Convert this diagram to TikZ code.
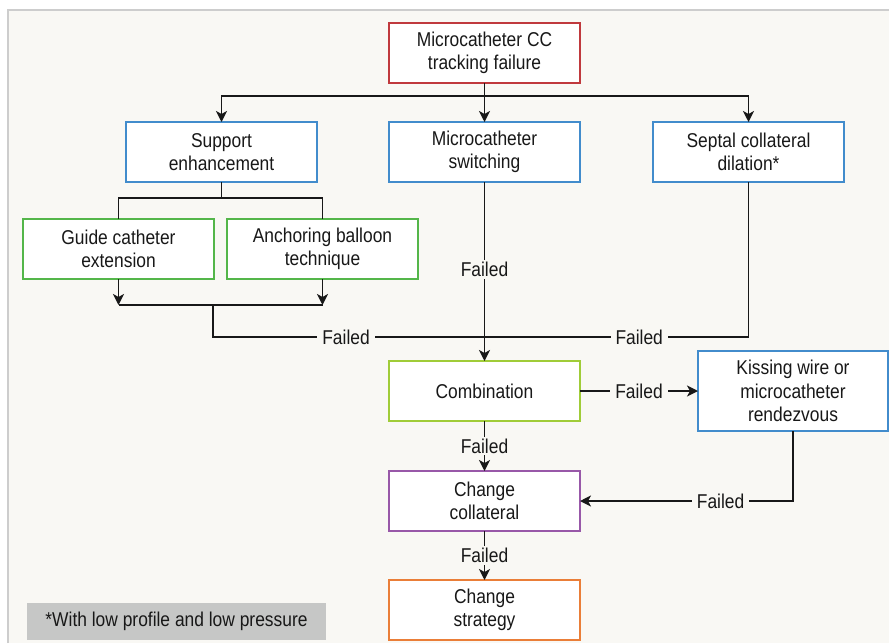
\documentclass[tikz,border=0pt]{standalone}
\usepackage{fontspec}
\setmainfont{Liberation Sans}[FakeStretch=0.87]
\usepackage{tikz}
\usetikzlibrary{arrows.meta,positioning}

\definecolor{bgcol}{RGB}{249,248,244}
\definecolor{framecol}{RGB}{205,205,205}
\definecolor{linecol}{RGB}{24,24,24}
\definecolor{redcol}{RGB}{192,57,61}
\definecolor{bluecol}{RGB}{66,140,204}
\definecolor{greencol}{RGB}{84,182,74}
\definecolor{limecol}{RGB}{160,204,56}
\definecolor{purplecol}{RGB}{152,88,168}
\definecolor{orangecol}{RGB}{234,126,56}
\definecolor{notecol}{RGB}{198,199,198}

\begin{document}
\begin{tikzpicture}[x=1pt,y=-1pt,>={Stealth[length=11pt,width=11pt,inset=3pt]},
  line width=1.6pt,
  every node/.style={font=\fontsize{20}{23.5}\selectfont,text=linecol},
  box/.style={draw,fill=white,line width=1.8pt,align=center,outer sep=0pt,
    minimum width=191pt,minimum height=60pt,inner sep=2pt},
  failed/.style={fill=bgcol,inner xsep=5pt,inner ysep=2pt}]
  \useasboundingbox (0,0) rectangle (889,643);
  \fill[bgcol] (8,10) rectangle (889,643);
  \draw[framecol,line width=2pt] (8,643) -- (8,10) -- (889,10);

  \node[box,draw=redcol] (top) at (484.5,53) {Microcatheter CC\\tracking failure};
  \node[box,draw=bluecol] (switch) [below=39pt of top] {Microcatheter\\switching};
  \node[box,draw=bluecol] (support) [left=72pt of switch] {Support\\enhancement};
  \node[box,draw=bluecol] (septal) [right=73pt of switch] {Septal collateral\\dilation*};
  \node[box,draw=greencol] (guide) at (118.5,249) {Guide catheter\\extension};
  \node[box,draw=greencol] (anchor) at (322.5,249) {Anchoring balloon\\technique};
  \node[box,draw=limecol] (combo) [below=179pt of switch] {Combination};
  \node[box,draw=bluecol,minimum width=190pt,minimum height=80pt] (kissing)
    [right=118pt of combo] {Kissing wire or\\microcatheter\\rendezvous};
  \node[box,draw=purplecol] (collat) [below=50pt of combo] {Change\\collateral};
  \node[box,draw=orangecol] (strategy) [below=49pt of collat] {Change\\strategy};
  \node[fill=notecol,minimum width=299pt,minimum height=37pt] (note)
    at (176.5,621.5) {*With low profile and low pressure};

  \coordinate (fork) at (484.5,96);
  \coordinate (fork2) at (221.5,198);
  \coordinate (join) at (213,305);
  \coordinate (meet) at (484.5,337);

\begin{scope}[draw=linecol]
  \draw (top) -- (fork);
  \draw[->] (fork) -- (switch);
  \draw[->] (fork) -| (support);
  \draw[->] (fork) -| (septal);
  \draw (support) -- (fork2);
  \draw (fork2) -| (guide);
  \draw (fork2) -| (anchor);
  \draw[->] (guide) -- (guide |- join);
  \draw[->] (anchor) -- (anchor |- join);
  \draw (guide |- join) -- (anchor |- join);
  \draw (join) |- node[failed,pos=0.745] {Failed} (meet);
  \draw (septal) |- node[failed,pos=0.707] {Failed} (meet);
  \draw[->] (switch) -- node[failed,pos=0.49] {Failed} (combo);
  \draw[->] (combo) -- node[failed] {Failed} (kissing);
  \draw[->] (combo) -- node[failed] {Failed} (collat);
  \draw[->] (kissing) |- node[failed,pos=0.67] {Failed} (collat);
  \draw[->] (collat) -- node[failed] {Failed} (strategy);
\end{scope}
\end{tikzpicture}
\end{document}
